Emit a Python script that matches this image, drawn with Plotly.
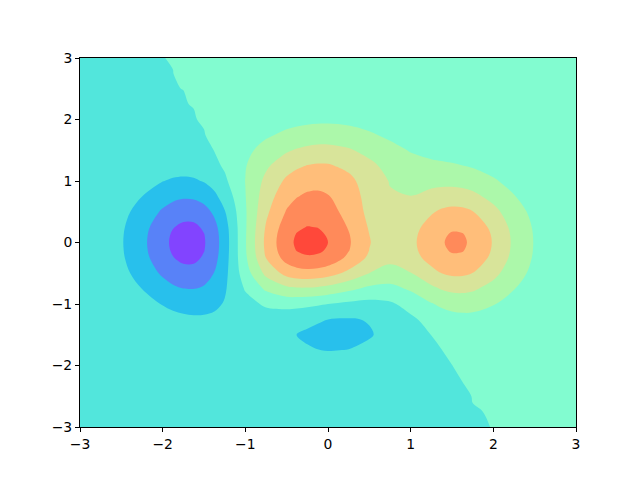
import plotly.graph_objects as go

# Base grid coordinates
x_vals = [-3.0, -2.75, -2.5, -2.25, -2.0, -1.75, -1.5, -1.25, -1.0, -0.75, -0.5, -0.25, 0.0,
          0.25, 0.5, 0.75, 1.0, 1.25, 1.5, 1.75, 2.0, 2.25, 2.5, 2.75, 3.0]
y_vals = [-3.0, -2.75, -2.5, -2.25, -2.0, -1.75, -1.5, -1.25, -1.0, -0.75, -0.5, -0.25, 0.0,
          0.25, 0.5, 0.75, 1.0, 1.25, 1.5, 1.75, 2.0, 2.25, 2.5, 2.75, 3.0]

# Surface values on the base grid, one row per y (bottom to top)
z_rows = [
    [-0.0000041, -0.0000117, -0.0000292, -0.0000645, -0.000129, -0.00024, -0.000427, -0.000735, -0.001203, -0.001819, -0.002478, -0.003, -0.003209, -0.003152, -0.00252, -0.001838, -0.001158, -0.00061, -0.000249, -0.0000604, 0.0000113, 0.0000239, 0.0000168, 0.0000083, 0.0000033],
    [-0.0000168, -0.0000474, -0.000117, -0.000251, -0.000483, -0.000859, -0.001459, -0.00242, -0.00388, -0.00582, -0.007922, -0.009602, -0.010286, -0.009723, -0.008099, -0.005902, -0.003688, -0.001892, -0.000709, -0.000103, 0.000107, 0.000121, 0.0000768, 0.0000367, 0.0000142],
    [-0.000061, -0.000171, -0.000414, -0.000869, -0.001613, -0.002723, -0.004367, -0.006898, -0.010739, -0.015931, -0.021654, -0.026291, -0.028226, -0.026741, -0.022311, -0.016234, -0.010029, -0.004935, -0.001583, 0.0000824, 0.000579, 0.000512, 0.000305, 0.000142, 0.000054],
    [-0.000197, -0.000547, -0.001305, -0.002682, -0.004799, -0.007676, -0.011499, -0.017007, -0.025361, -0.036979, -0.050145, -0.06105, -0.065771, -0.062525, -0.052302, -0.037973, -0.023032, -0.010567, -0.002366, 0.001524, 0.002389, 0.001849, 0.001051, 0.000479, 0.00018],
    [-0.000562, -0.00155, -0.003655, -0.007367, -0.012748, -0.019307, -0.026725, -0.036192, -0.050535, -0.071616, -0.096731, -0.11831, -0.12821, -0.12258, -0.10297, -0.07449, -0.0438, -0.01756, -0.000301, 0.007314, 0.008051, 0.005744, 0.00316, 0.001417, 0.00053],
    [-0.00142, -0.0039, -0.0091, -0.01803, -0.03029, -0.04353, -0.05523, -0.06653, -0.08361, -0.11251, -0.15082, -0.18609, -0.20389, -0.19699, -0.16676, -0.11984, -0.0664, -0.01895, 0.01225, 0.02445, 0.02282, 0.01545, 0.00831, 0.00368, 0.00137],
    [-0.00317, -0.00867, -0.02009, -0.03931, -0.06443, -0.0883, -0.10241, -0.10609, -0.11148, -0.13436, -0.177, -0.22288, -0.25032, -0.24744, -0.21291, -0.1509, -0.0727, 0.00114, 0.04965, 0.06489, 0.05526, 0.03614, 0.01913, 0.00841, 0.00311],
    [-0.00627, -0.01708, -0.03939, -0.07628, -0.12267, -0.16168, -0.17226, -0.14851, -0.11205, -0.09739, -0.11988, -0.16326, -0.19979, -0.2121, -0.1913, -0.13028, -0.03494, 0.06475, 0.13015, 0.14299, 0.11536, 0.07376, 0.03861, 0.01688, 0.00622],
    [-0.01096, -0.0298, -0.06845, -0.13166, -0.20888, -0.26735, -0.26537, -0.18715, -0.06767, 0.02886, 0.06267, 0.04286, 0.0, -0.04286, -0.06267, -0.02886, 0.06767, 0.18713, 0.26537, 0.26735, 0.20888, 0.13166, 0.06845, 0.0298, 0.01096],
    [-0.01694, -0.04599, -0.10538, -0.20183, -0.31748, -0.39867, -0.3763, -0.22081, 0.01638, 0.23239, 0.35361, 0.37583, 0.32941, 0.24307, 0.15947, 0.14299, 0.22599, 0.35888, 0.44574, 0.42949, 0.32955, 0.20601, 0.10665, 0.04633, 0.01702],
    [-0.02313, -0.06274, -0.14362, -0.2744, -0.42948, -0.53411, -0.48997, -0.25335, 0.10744, 0.44938, 0.66339, 0.7309, 0.68145, 0.54943, 0.39803, 0.32718, 0.39395, 0.53899, 0.63361, 0.59784, 0.45467, 0.28305, 0.14622, 0.06345, 0.02329],
    [-0.02788, -0.07562, -0.17305, -0.33034, -0.51645, -0.63944, -0.58018, -0.28407, 0.16739, 0.6006, 0.88022, 0.97815, 0.92473, 0.75926, 0.56014, 0.4532, 0.51298, 0.6717, 0.77511, 0.72595, 0.55032, 0.34207, 0.17657, 0.07659, 0.02811],
    [-0.02968, -0.08049, -0.18413, -0.35157, -0.54947, -0.67996, -0.61595, -0.29911, 0.18394, 0.64824, 0.94916, 1.05592, 1.0, 0.82291, 0.60844, 0.49133, 0.55182, 0.71829, 0.82675, 0.7735, 0.58611, 0.36423, 0.18799, 0.08153, 0.02992],
    [-0.02788, -0.0756, -0.17299, -0.33015, -0.51591, -0.63807, -0.57708, -0.27787, 0.1782, 0.61732, 0.90309, 1.00573, 0.95409, 0.78684, 0.583, 0.46992, 0.52379, 0.67785, 0.77821, 0.72732, 0.55087, 0.34226, 0.17663, 0.07659, 0.02811],
    [-0.0231, -0.06264, -0.14325, -0.27317, -0.42592, -0.525, -0.46944, -0.21254, 0.17907, 0.56032, 0.81502, 0.9138, 0.87615, 0.73234, 0.54967, 0.43812, 0.46557, 0.57981, 0.65414, 0.60695, 0.45824, 0.28426, 0.14659, 0.06355, 0.02332],
    [-0.01688, -0.04574, -0.10446, -0.19879, -0.30868, -0.37619, -0.32562, -0.12004, 0.19324, 0.50632, 0.72802, 0.82746, 0.81016, 0.6947, 0.53389, 0.41691, 0.40285, 0.45966, 0.49641, 0.45197, 0.33836, 0.20905, 0.10758, 0.04658, 0.01708],
    [-0.01087, -0.02942, -0.06703, -0.12701, -0.1954, -0.23294, -0.18782, -0.03293, 0.203, 0.44808, 0.63568, 0.73404, 0.73576, 0.64832, 0.51034, 0.39036, 0.33834, 0.34136, 0.34292, 0.30176, 0.22236, 0.13632, 0.06987, 0.03018, 0.01105],
    [-0.00617, -0.01666, -0.03781, -0.0711, -0.10768, -0.12338, -0.08596, 0.02312, 0.18916, 0.36915, 0.51779, 0.60592, 0.61901, 0.55708, 0.44637, 0.33626, 0.26628, 0.23638, 0.21645, 0.18128, 0.13035, 0.07894, 0.0402, 0.0173, 0.00632],
    [-0.00308, -0.0083, -0.01872, -0.0348, -0.0514, -0.05503, -0.02743, 0.04304, 0.15025, 0.27101, 0.37708, 0.44546, 0.46112, 0.4209, 0.34116, 0.25447, 0.18902, 0.15027, 0.12463, 0.09816, 0.06829, 0.04064, 0.0205, 0.00878, 0.0032],
    [-0.00136, -0.00363, -0.00813, -0.01486, -0.02111, -0.02008, -0.00239, 0.03855, 0.10082, 0.17314, 0.23961, 0.28486, 0.29743, 0.27396, 0.22367, 0.1658, 0.11802, 0.08614, 0.06509, 0.0479, 0.032, 0.01862, 0.00928, 0.00394, 0.00143],
    [-0.000526, -0.001398, -0.00309, -0.005512, -0.00738, -0.005601, 0.004162, 0.02524, 0.05727, 0.09536, 0.1315, 0.15699, 0.16484, 0.15272, 0.12526, 0.09249, 0.06401, 0.04387, 0.03059, 0.02102, 0.01342, 0.0076, 0.00373, 0.00157, 0.000566],
    [-0.000179, -0.000472, -0.001026, -0.001769, -0.002157, -0.000932, 0.0037, 0.01322, 0.02769, 0.04518, 0.06216, 0.07441, 0.07843, 0.07294, 0.06, 0.04419, 0.03002, 0.01966, 0.01283, 0.00827, 0.00503, 0.00276, 0.00133, 0.000554, 0.000198],
    [-0.0000536, -0.00014, -0.000297, -0.000488, -0.000508, 0.0000981, 0.00199, 0.00574, 0.01145, 0.01844, 0.02532, 0.03037, 0.03209, 0.02992, 0.02466, 0.01813, 0.01216, 0.00771, 0.00477, 0.0029, 0.00168, 0.000894, 0.000421, 0.000173, 0.0000615],
    [-0.0000141, -0.0000362, -0.0000748, -0.000114, -0.0000876, 0.000152, 0.000819, 0.00211, 0.00407, 0.00649, 0.00891, 0.0107, 0.01133, 0.01058, 0.00873, 0.00641, 0.00426, 0.00264, 0.00157, 0.000907, 0.000502, 0.000258, 0.000119, 0.000048, 0.0000169],
    [-0.0000033, -0.0000082, -0.0000163, -0.0000223, -0.0000068, 0.0000719, 0.000275, 0.000662, 0.001249, 0.001979, 0.002712, 0.003261, 0.003455, 0.003232, 0.00267, 0.001959, 0.001294, 0.000787, 0.000453, 0.000251, 0.000133, 0.000066, 0.0000296, 0.0000118, 0.0000041],
]

# Extra rows near the peaks (y = -0.125 and y = +0.125), same x as base grid
row_y_m0125 = [-0.02922, -0.07924, -0.18128, -0.34613, -0.54099, -0.66951, -0.60661, -0.29488, 0.18038, 0.6371, 0.93295, 1.03775, 0.98257, 0.80834, 0.59751, 0.48262, 0.54256, 0.70675, 0.81373, 0.76142, 0.57698, 0.35857, 0.18507, 0.08027, 0.02946]
row_y_p0125 = [-0.02922, -0.07924, -0.18127, -0.34611, -0.54091, -0.66933, -0.60619, -0.29407, 0.1818, 0.63928, 0.93594, 1.04136, 0.98642, 0.81196, 0.6005, 0.48481, 0.54397, 0.70756, 0.81414, 0.7616, 0.57706, 0.35859, 0.18508, 0.08027, 0.02946]

# Extra columns, one value per y of the refined y grid (27 values, bottom to top)
col_x_m1875 = [-0.000177, -0.000649, -0.002116, -0.00614, -0.01592, -0.036981, -0.077119, -0.144508, -0.243197, -0.366878, -0.494593, -0.59354, -0.621621, -0.63135, -0.621506, -0.592666, -0.488798, -0.352586, -0.221324, -0.120168, -0.055968, -0.022077, -0.007208, -0.001853, -0.000322, -0.0000068, 0.0000211]
col_x_m1625 = [-0.000321, -0.001123, -0.003462, -0.009439, -0.022883, -0.049626, -0.096916, -0.171487, -0.275964, -0.403931, -0.53562, -0.638744, -0.668442, -0.67883, -0.668167, -0.63666, -0.521733, -0.369641, -0.223491, -0.113094, -0.046179, -0.013873, -0.001983, 0.000845, 0.000841, 0.000418, 0.000154]
col_x_m1375 = [-0.000563, -0.001885, -0.005495, -0.01397, -0.031047, -0.060635, -0.105063, -0.163945, -0.234796, -0.313922, -0.394176, -0.459956, -0.480001, -0.48726, -0.47942, -0.455521, -0.36478, -0.241343, -0.123711, -0.040325, 0.002349, 0.015055, 0.013198, 0.007801, 0.003613, 0.001378, 0.000443]
col_x_m1125 = [-0.000948, -0.003083, -0.008639, -0.020764, -0.042567, -0.073863, -0.107457, -0.129636, -0.128622, -0.106299, -0.080077, -0.06761, -0.067064, -0.067564, -0.065971, -0.059333, -0.025163, 0.029304, 0.07891, 0.101313, 0.093215, 0.067543, 0.040093, 0.019909, 0.008378, 0.003013, 0.000932]
col_x_m0375 = [-0.002768, -0.008855, -0.024228, -0.056151, -0.108527, -0.169828, -0.200996, -0.140781, 0.057558, 0.375339, 0.713901, 0.950395, 1.00771, 1.025275, 1.011048, 0.975911, 0.883064, 0.793031, 0.696796, 0.570599, 0.417118, 0.265734, 0.146085, 0.06913, 0.028186, 0.009921, 0.003021]
col_x_m0125 = [-0.003151, -0.010094, -0.027677, -0.06436, -0.125098, -0.197853, -0.239957, -0.183796, 0.022625, 0.35934, 0.718786, 0.968175, 1.027893, 1.045998, 1.031673, 0.997074, 0.910459, 0.832642, 0.746975, 0.622301, 0.460453, 0.295699, 0.163415, 0.077602, 0.031716, 0.011181, 0.00341]
col_x_1375 = [-0.000406, -0.001221, -0.003031, -0.00589, -0.007667, -0.000932, 0.029477, 0.10362, 0.2348, 0.41339, 0.59995, 0.73919, 0.7767, 0.78922, 0.77728, 0.74362, 0.62934, 0.48597, 0.34588, 0.22724, 0.13689, 0.07476, 0.03658, 0.01588, 0.006078, 0.002041, 0.0006]
col_x_1625 = [-0.000136, -0.000344, -0.000565, 0.0000577, 0.004596, 0.020544, 0.061212, 0.14299, 0.27596, 0.45091, 0.63281, 0.77065, 0.80859, 0.82146, 0.80886, 0.77273, 0.64669, 0.4852, 0.32843, 0.20138, 0.11195, 0.0563, 0.0255, 0.01034, 0.003737, 0.001197, 0.000339]
extra_cols = {-1.875: col_x_m1875, -1.625: col_x_m1625, -1.375: col_x_m1375, -1.125: col_x_m1125,
              -0.375: col_x_m0375, -0.125: col_x_m0125, 1.375: col_x_1375, 1.625: col_x_1625}

# Contour levels and band colours (as seen in the reference)
level_start = -0.8
level_end = 1.2
level_step = 0.2
band_colors = ["#8244ff", "#5882f8", "#28c0ec", "#52e6dc", "#82fcd0",
               "#acf8aa", "#d8e49a", "#ffbe7a", "#ff8a5a", "#ff483a"]
tick_vals = [-3, -2, -1, 0, 1, 2, 3]

# ---- assemble the refined table from the arrays above ----
rows_by_y = dict(zip(y_vals, z_rows))
rows_by_y[-0.125] = row_y_m0125
rows_by_y[0.125] = row_y_p0125
full_y = sorted(rows_by_y.keys())
full_x = sorted(x_vals + list(extra_cols.keys()))
z_table = []
for j, yv in enumerate(full_y):
    row = dict(zip(x_vals, rows_by_y[yv]))
    for xv, col in extra_cols.items():
        row[xv] = col[j]
    z_table.append([row[xv] for xv in full_x])

# Stepped colorscale: fill of each band is evaluated at its midpoint;
# the colour domain spans (start - step/2) .. (end + step/2)
slots = [band_colors[0]] + band_colors + [band_colors[-1]]
n = len(slots) - 1
colorscale = []
for k, c in enumerate(slots):
    colorscale.append([max(0.0, (k - 0.5) / n), c])
    colorscale.append([min(1.0, (k + 0.5) / n), c])

fig = go.Figure(go.Contour(
    x=full_x, y=full_y, z=z_table,
    contours=dict(start=level_start, end=level_end, size=level_step, coloring="fill"),
    colorscale=colorscale,
    line=dict(width=0, smoothing=1.0),
    showscale=False,
    hoverinfo="skip",
))

axis_common = dict(
    range=[-3, 3], tickvals=tick_vals, ticks="outside", ticklen=4, tickwidth=1,
    tickcolor="black", showline=True, linecolor="black", linewidth=1, mirror=True,
    showgrid=False, zeroline=False,
    tickfont=dict(family="DejaVu Sans", size=13.9, color="black"),
)
fig.update_xaxes(**axis_common)
fig.update_yaxes(**axis_common)
fig.update_layout(
    width=640, height=480,
    margin=dict(l=72, r=72, t=50, b=61),
    paper_bgcolor="white", plot_bgcolor="white",
    showlegend=False,
)
fig.write_html("out.html")
